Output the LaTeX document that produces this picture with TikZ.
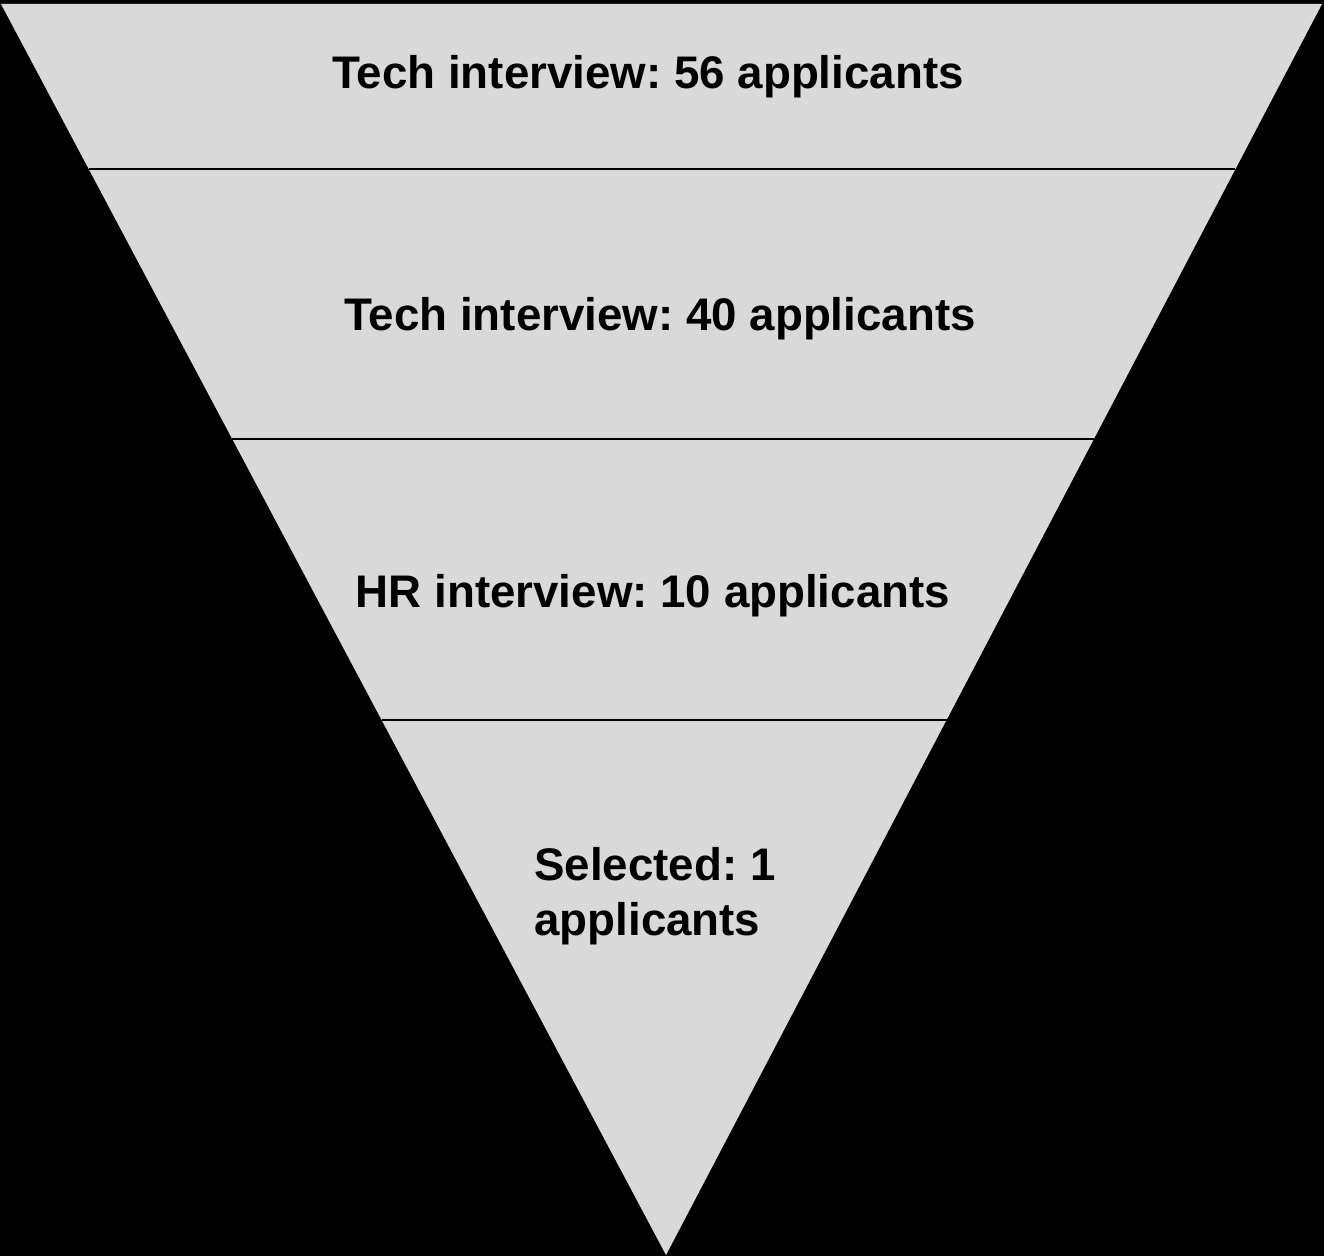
\documentclass[tikz,border=0pt]{standalone}
\usepackage{fontspec}
\setmainfont{Liberation Sans}
\usepackage{tikz}
\usetikzlibrary{calc}
\definecolor{funnelgray}{HTML}{D9D9D9}
\frenchspacing

\begin{document}
\begin{tikzpicture}[x=0.02cm, y=-0.02cm]
        % Define block styles
        \tikzstyle{stage} = [font=\bfseries\fontsize{26}{31}\selectfont, text=black, inner sep=0pt]
        \tikzstyle{divider} = [draw=black, line width=1.1pt]

        % Background
        \fill[black] (0,0) rectangle (1324,1256);
        \useasboundingbox (0,0) rectangle (1324,1256);

        % Place corners of the funnel
        \coordinate (top_left) at (1,4);
        \coordinate (top_right) at (1322,4);
        \coordinate (apex) at (666,1255);
        \fill[funnelgray] (top_left) -- (top_right) -- (apex) -- cycle;

        % Draw dividers between stages
        \coordinate (cut_a_left) at ($(top_left)!0.1319!(apex)$);
        \coordinate (cut_a_right) at ($(top_right)!0.1319!(apex)$);
        \coordinate (cut_b_left) at ($(top_left)!0.3477!(apex)$);
        \coordinate (cut_b_right) at ($(top_right)!0.3477!(apex)$);
        \coordinate (cut_c_left) at ($(top_left)!0.5723!(apex)$);
        \coordinate (cut_c_right) at ($(top_right)!0.5723!(apex)$);
        \draw[divider] (cut_a_left) -- (cut_a_right);
        \draw[divider] (cut_b_left) -- (cut_b_right);
        \draw[divider] (cut_c_left) -- (cut_c_right);

        % Place stage labels
        \node[stage] (tech_first) at (648,77) {Tech interview: 56 applicants};
        \node[stage] (tech_second) at (660,319) {Tech interview: 40 applicants};
        \node[stage] (hr_round) at (653,596) {HR interview: 10 applicants};
        \node[stage, align=left] (selected) at (655,896) {Selected: 1\\applicants};
    \end{tikzpicture}
\end{document}
